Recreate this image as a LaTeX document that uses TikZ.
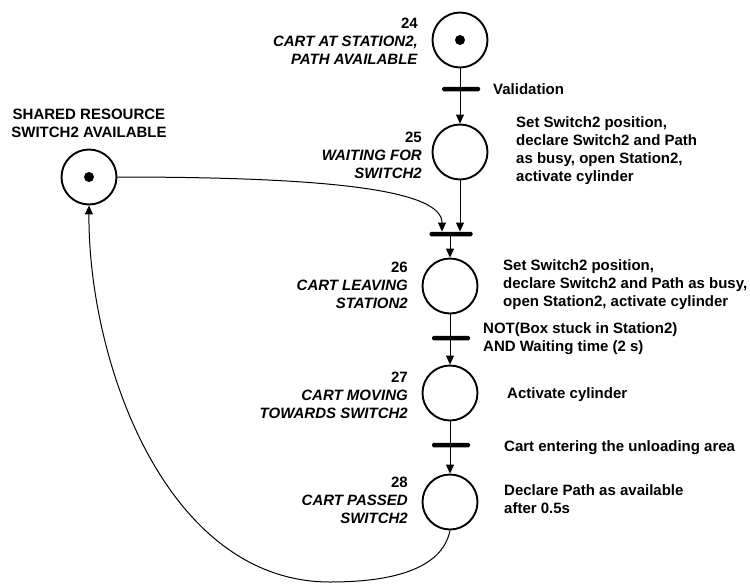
\documentclass[tikz,border=0pt]{standalone}
\usepackage{fontspec}
\setmainfont{Liberation Sans}
\usetikzlibrary{arrows.meta}
\begin{document}
\begin{tikzpicture}[x=1pt,y=-1pt,
  place/.style={circle,draw,line width=1.9pt,minimum size=55pt,inner sep=0},
  bar/.style={fill=black,minimum width=38pt,minimum height=4.5pt,inner sep=0,rounded corners=1.5pt},
  token/.style={circle,fill=black,minimum size=10pt,inner sep=0},
  flow/.style={line width=1pt,-{Triangle[length=9pt,width=8pt]}},
  lbl/.style={font=\fontsize{15}{18}\selectfont\bfseries,inner sep=0},
  steplabel/.style={lbl,align=right,anchor=east},
  act/.style={lbl,align=left,anchor=west}]
\useasboundingbox (0,0) rectangle (750,584);

% places
\node[place] (p24) at (460,40) {};
\node[token] at (p24) {};
\node[place] (p25) at (460,152) {};
\node[place] (p26) at (450,286) {};
\node[place] (p27) at (450,393) {};
\node[place] (p28) at (450,502) {};
\node[place] (res) at (89,177) {};
\node[token] at (res) {};

% transitions
\node[bar] (t1) at (461,89) {};
\node[bar,minimum width=43pt] (t2) at (451,234) {};
\node[bar] (t3) at (451,338) {};
\node[bar] (t4) at (451,445) {};

% arcs
\draw[flow] (p24) -- (p25);
\draw[flow] (p25.south) -- (p25.south |- t2.north);
\draw[flow] (res.east) .. controls (330,177) and (442,190) .. ([xshift=-9pt]t2.north);
\draw[flow] (t2.south -| p26) -- (p26.north);
\draw[flow] (p26) -- (p27);
\draw[flow] (p27) -- (p28);
\coordinate (low) at (330,582);
\draw[flow] (p28.south) .. controls (442,570) and (390,582) .. (low)
  .. controls (165,582) and (88,360) .. (res.south);

% step names
\node[steplabel] at (418,41) {24\\\textit{CART AT STATION2,}\\\textit{PATH AVAILABLE}};
\node[steplabel] at (422,155) {25\\\textit{WAITING FOR}\\\textit{SWITCH2}};
\node[steplabel] at (408,285) {26\\\textit{CART LEAVING}\\\textit{STATION2}};
\node[steplabel] at (408,395) {27\\\textit{CART MOVING}\\\textit{TOWARDS SWITCH2}};
\node[steplabel] at (408,500) {28\\\textit{CART PASSED}\\\textit{SWITCH2}};
\node[lbl,align=center] at (89,123) {SHARED RESOURCE\\SWITCH2 AVAILABLE};

% receptivities and actions
\node[act] at (493,89) {Validation};
\node[act] at (516,150.5) {Set Switch2 position,\\declare Switch2 and Path\\as busy, open Station2,\\activate cylinder};
\node[act] at (503,285) {Set Switch2 position,\\declare Switch2 and Path as busy,\\open Station2, activate cylinder};
\node[act] at (483,339) {NOT(Box stuck in Station2)\\AND Waiting time (2 s)};
\node[act] at (507,395) {Activate cylinder};
\node[act] at (504,448) {Cart entering the unloading area};
\node[act] at (504,499) {Declare Path as available\\after 0.5s};
\end{tikzpicture}
\end{document}
